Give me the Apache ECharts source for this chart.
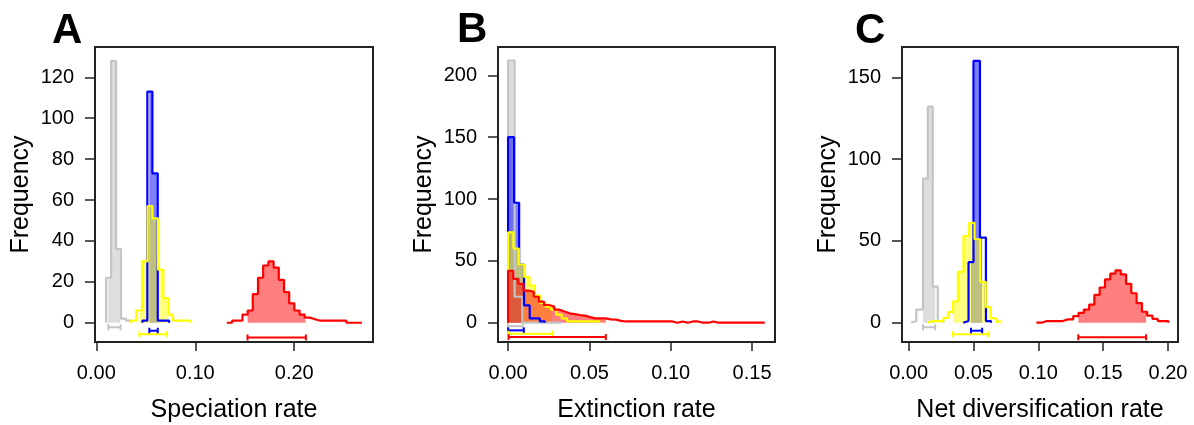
<!DOCTYPE html>
<html><head><meta charset="utf-8">
<script src="https://cdn.jsdelivr.net/npm/echarts@6/dist/echarts.min.js"></script>
<style>html,body{margin:0;padding:0;background:#fff}#c{width:1194px;height:425px}</style>
</head><body><div id="c"></div>
<script>
// ================= DATA =================
// Panel A : Speciation rate
const aGrayEdges   = [0.010, 0.015, 0.020, 0.025, 0.030, 0.035];
const aGrayCounts  = [22, 128, 36, 2, 1];
const aGrayCI      = [0.0121, 0.0245];
const aBlueEdges   = [0.0466, 0.0516, 0.0567, 0.0621, 0.0678, 0.0736];
const aBlueCounts  = [1, 113, 73, 1, 1];
const aBlueCI      = [0.0536, 0.0621];
const aYellowEdges = [0.0351, 0.0404, 0.0462, 0.0518, 0.0568, 0.0624, 0.0678, 0.0729, 0.0776, 0.0832, 0.0887, 0.0948];
const aYellowCounts= [1, 6, 30, 57, 51, 26, 12, 4, 1, 1, 1];
const aYellowCI    = [0.0435, 0.0715];
const aRedEdges    = [0.1319, 0.1372, 0.1424, 0.1477, 0.1530, 0.1581, 0.1634, 0.1686, 0.1739, 0.1792, 0.1844, 0.1897, 0.1949, 0.2001, 0.2054, 0.2106, 0.2159, 0.2211, 0.2264, 0.2317, 0.2369, 0.2422, 0.2474, 0.2527, 0.2580, 0.2632, 0.2685];
const aRedCounts   = [0, 1, 1, 4, 6, 14, 22, 28, 30, 27, 21, 15, 9.5, 6, 4, 2.5, 1.7, 1, 1, 1, 1, 1, 1, 0, 0, 0];
const aRedCI       = [0.1528, 0.2118];

// Panel B : Extinction rate
const bGrayEdges   = [0, 0.0040, 0.0088, 0.0136, 0.0184, 0.0232, 0.0280, 0.0328];
const bGrayCounts  = [212, 21, 0, 0, 0, 0, 0];
const bGrayCI      = [0, 0.0090];
const bBlueEdges   = [0, 0.0037, 0.0068, 0.0098, 0.0133, 0.0164, 0.0195, 0.0226];
const bBlueCounts  = [150, 97, 47, 14, 3.5, 3.5, 1];
const bBlueCI      = [0, 0.0097];
const bYellowEdges = [0, 0.0033, 0.0066, 0.0099, 0.0132, 0.0165, 0.0198, 0.0231, 0.0264, 0.0297, 0.0330, 0.0363, 0.0396, 0.0429, 0.0462, 0.0495, 0.0528, 0.0561];
const bYellowCounts= [73, 60, 47, 37, 30, 22, 16, 13, 10.5, 6.5, 3.5, 1, 1, 1, 1, 1, 1];
const bYellowCI    = [0, 0.0273];
const bRedEdges    = [0, 0.0032, 0.0063, 0.0095, 0.0126, 0.0158, 0.0189, 0.0221, 0.0252, 0.0284, 0.0316, 0.0347, 0.0379, 0.0410, 0.0442, 0.0473, 0.0505, 0.0537, 0.0568, 0.0600, 0.0631, 0.0663, 0.0694, 0.0726, 0.0757, 0.0789, 0.0821, 0.0852, 0.0884, 0.0915, 0.0947, 0.0978, 0.1010, 0.1041, 0.1073, 0.1105, 0.1136, 0.1168, 0.1199, 0.1231, 0.1262, 0.1294, 0.1326, 0.1357, 0.1389, 0.1420, 0.1452, 0.1483, 0.1515, 0.1546, 0.1578];
const bRedCounts   = [42, 35.5, 31.5, 26, 25, 21, 17, 14.3, 13, 10.5, 9, 7.6, 7, 6.2, 5.7, 4.5, 3.5, 3.5, 3.5, 2.7, 2.5, 1.5, 1, 1, 1, 1, 1, 1, 1, 1, 1, 1, 0, 1, 0, 1, 1, 0, 0, 1, 0, 0, 0, 0, 0, 0, 0, 0, 0, 0];
const bRedCI       = [0.0003, 0.0601];

// Panel C : Net diversification rate
const cGrayEdges   = [0.0020, 0.0059, 0.0111, 0.0148, 0.0186, 0.0225, 0.0269];
const cGrayCounts  = [1, 8, 88, 132, 22, 1];
const cGrayCI      = [0.0111, 0.0205];
const cBlueEdges   = [0.0421, 0.0462, 0.0500, 0.0550, 0.0596, 0.0635];
const cBlueCounts  = [1, 37, 160, 52, 1];
const cBlueCI      = [0.0481, 0.0567];
const cYellowEdges = [0.0146, 0.0188, 0.0228, 0.0269, 0.0308, 0.0342, 0.0380, 0.0423, 0.0467, 0.0508, 0.0552, 0.0595, 0.0634, 0.0675, 0.0713];
const cYellowCounts= [1, 1, 1, 3, 6.5, 13, 31, 53, 61, 51, 25, 9.5, 2.7, 0.6];
const cYellowCI    = [0.0342, 0.0615];
const cRedEdges    = [0.0985, 0.1025, 0.1066, 0.1107, 0.1148, 0.1189, 0.1229, 0.1269, 0.1310, 0.1351, 0.1392, 0.1432, 0.1473, 0.1514, 0.1555, 0.1595, 0.1636, 0.1677, 0.1717, 0.1758, 0.1799, 0.1839, 0.1880, 0.1921, 0.1962, 0.2002];
const cRedCounts   = [0, 1, 1, 1, 1, 2, 2, 4, 6, 8, 11, 17, 21.5, 26.5, 30, 32, 29.5, 23.7, 18, 12, 6.7, 4.3, 2.3, 1, 1];
const cRedCI       = [0.1308, 0.1831];

// Axis ticks
const aXTicks = [0, 0.10, 0.20];
const aYTicks = [0, 20, 40, 60, 80, 100, 120];
const bXTicks = [0, 0.05, 0.10, 0.15];
const bYTicks = [0, 50, 100, 150, 200];
const cXTicks = [0, 0.05, 0.10, 0.15, 0.20];
const cYTicks = [0, 50, 100, 150];

const titles = ['Speciation rate', 'Extinction rate', 'Net diversification rate'];
const letters = ['A', 'B', 'C'];

// ================= LAYOUT / STYLE =================
const FONT = '"Liberation Sans", Arial, sans-serif';
const TXT = '#000';
const STYLE = {
  gray:   { line: '#c4c4c4', fill: 'rgba(190,190,190,0.5)' },
  blue:   { line: '#0000ff', fill: 'rgba(0,0,255,0.5)' },
  yellow: { line: '#ffff00', fill: 'rgba(255,255,0,0.5)' },
  red:    { line: '#ff0000', fill: 'rgba(255,0,0,0.5)' }
};
const panels = [
  { grid: {left: 95, top: 47, width: 278, height: 295}, x: [-0.0013, 0.2796], y: [-9.4, 134.8],
    xt: aXTicks, yt: aYTicks, barY: [-2.2, -3.9, -5.6, -7.2],
    d: { gray: [aGrayEdges, aGrayCounts, aGrayCI], blue: [aBlueEdges, aBlueCounts, aBlueCI],
         yellow: [aYellowEdges, aYellowCounts, aYellowCI], red: [aRedEdges, aRedCounts, aRedCI] } },
  { grid: {left: 498, top: 47, width: 277, height: 295}, x: [-0.0062, 0.1641], y: [-15.6, 222.9],
    xt: bXTicks, yt: bYTicks, barY: [-2.8, -6.2, -8.9, -11.6],
    d: { gray: [bGrayEdges, bGrayCounts, bGrayCI], blue: [bBlueEdges, bBlueCounts, bBlueCI],
         yellow: [bYellowEdges, bYellowCounts, bYellowCI], red: [bRedEdges, bRedCounts, bRedCI] } },
  { grid: {left: 902, top: 47, width: 276, height: 295}, x: [-0.0051, 0.2077], y: [-11.8, 168.5],
    xt: cXTicks, yt: cYTicks, barY: [-2.8, -4.9, -7.0, -8.9],
    d: { gray: [cGrayEdges, cGrayCounts, cGrayCI], blue: [cBlueEdges, cBlueCounts, cBlueCI],
         yellow: [cYellowEdges, cYellowCounts, cYellowCI], red: [cRedEdges, cRedCounts, cRedCI] } }
];
const ORDER = ['gray', 'blue', 'yellow', 'red'];

function outlinePoints(edges, counts) {
  const pts = [[edges[0], 0]];
  for (let i = 0; i < counts.length; i++) pts.push([edges[i], counts[i]]);
  pts.push([edges[edges.length - 1], 0]);
  return pts;
}
function fillPoints(edges, counts, ci) {
  const lo = ci[0], hi = ci[1];
  const pts = []; let last = null;
  for (let i = 0; i < counts.length; i++) {
    const a = Math.max(edges[i], lo), b = Math.min(edges[i + 1], hi);
    if (b <= a) continue;
    pts.push([a, counts[i]]);
    last = [b, counts[i]];
  }
  if (last) pts.push(last);
  return pts;
}

const grids = [], xAxes = [], yAxes = [], series = [], graphics = [];
panels.forEach((p, k) => {
  grids.push(Object.assign({ show: true, borderColor: '#222', borderWidth: 2, backgroundColor: 'transparent',
    containLabel: false, outerBoundsMode: 'none' }, p.grid));
  xAxes.push({
    type: 'value', gridIndex: k, min: p.x[0], max: p.x[1], position: 'bottom',
    axisLine: { show: false, onZero: false }, splitLine: { show: false },
    axisTick: { show: true, inside: false, length: 9, customValues: p.xt, lineStyle: { color: '#222', width: 1.5 } },
    axisLabel: { customValues: p.xt, formatter: v => v.toFixed(2), fontSize: 20, color: TXT, fontFamily: FONT, margin: 21 },
    name: titles[k], nameLocation: 'middle', nameGap: 56,
    nameTextStyle: { fontSize: 25, color: TXT, fontFamily: FONT }
  });
  yAxes.push({
    type: 'value', gridIndex: k, min: p.y[0], max: p.y[1], position: 'left',
    axisLine: { show: false, onZero: false }, splitLine: { show: false },
    axisTick: { show: true, inside: false, length: 10, customValues: p.yt, lineStyle: { color: '#222', width: 1.5 } },
    axisLabel: { customValues: p.yt, fontSize: 20, color: TXT, fontFamily: FONT, margin: 21 },
    name: 'Frequency', nameLocation: 'middle', nameGap: 61, nameRotate: 90,
    nameTextStyle: { fontSize: 25, color: TXT, fontFamily: FONT }
  });
  ORDER.forEach(c => {
    const [e, n, ci] = p.d[c];
    series.push({ type: 'line', xAxisIndex: k, yAxisIndex: k, step: 'end', symbol: 'none', silent: true,
      data: fillPoints(e, n, ci), lineStyle: { width: 0, opacity: 0 },
      areaStyle: { color: STYLE[c].fill, opacity: 1 }, z: 2 });
  });
  ORDER.forEach(c => {
    const [e, n] = p.d[c];
    series.push({ type: 'line', xAxisIndex: k, yAxisIndex: k, step: 'end', symbol: 'none', silent: true,
      data: outlinePoints(e, n), lineStyle: { width: 2.2, color: STYLE[c].line }, z: 3 });
  });
  ORDER.forEach((c, j) => {
    const ci = p.d[c][2];
    series.push({ type: 'custom', xAxisIndex: k, yAxisIndex: k, silent: true, z: 4,
      data: [[ci[0], ci[1], p.barY[j]]],
      encode: { x: [0, 1], y: 2 },
      renderItem: (params, api) => {
        const a = api.coord([api.value(0), api.value(2)]);
        const b = api.coord([api.value(1), api.value(2)]);
        const st = { stroke: STYLE[c].line, lineWidth: 2 };
        const h = 3;
        return { type: 'group', children: [
          { type: 'line', shape: { x1: a[0], y1: a[1], x2: b[0], y2: b[1] }, style: st },
          { type: 'line', shape: { x1: a[0], y1: a[1] - h, x2: a[0], y2: a[1] + h }, style: st },
          { type: 'line', shape: { x1: b[0], y1: b[1] - h, x2: b[0], y2: b[1] + h }, style: st }
        ] };
      }
    });
  });
});

const letterPos = [[52, 10], [457, 9], [855, 10]];
letters.forEach((L, k) => {
  graphics.push({ type: 'text', left: letterPos[k][0], top: letterPos[k][1],
    style: { text: L, font: 'bold 42px ' + FONT, fill: '#000' } });
});

const chart = echarts.init(document.getElementById('c'));
chart.setOption({
  animation: false,
  backgroundColor: '#fff',
  grid: grids, xAxis: xAxes, yAxis: yAxes, series: series, graphic: graphics
});
</script></body></html>
